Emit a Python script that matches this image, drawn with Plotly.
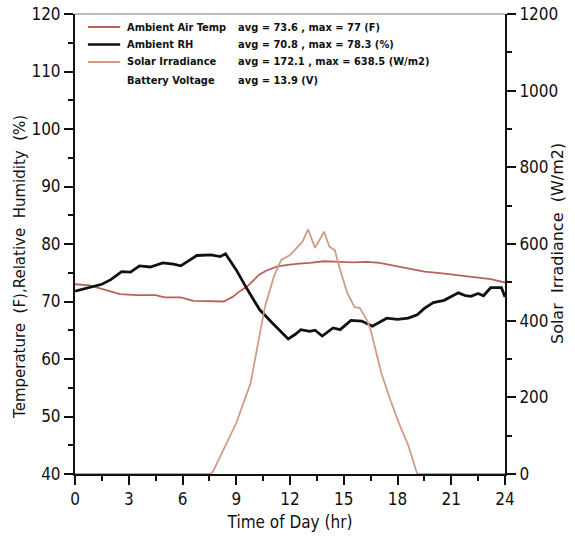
import plotly.graph_objects as go

# Hourly weather-station record
temp_hr = [0, 0.8, 1.5, 2.5, 3.5, 4.5, 5.0, 5.9, 6.6, 7.5, 8.3, 8.8, 9.2, 9.6, 10.3, 10.7,
           11.3, 12.0, 12.5, 13.1, 13.9, 14.8, 15.5, 16.3, 17.0, 17.5, 18.5, 19.5, 20.5,
           21.5, 22.3, 23.2, 24.0]
temp_f = [73.0, 72.8, 72.2, 71.3, 71.1, 71.1, 70.7, 70.7, 70.1, 70.0, 70.0, 70.8, 71.8, 72.6,
          74.7, 75.4, 76.1, 76.4, 76.6, 76.7, 77.0, 76.9, 76.8, 76.9, 76.7, 76.4, 75.8, 75.2,
          74.9, 74.5, 74.3, 73.9, 73.3]

rh_hr = [0, 0.8, 1.5, 2.0, 2.6, 3.1, 3.6, 4.2, 4.9, 5.5, 5.9, 6.4, 6.8, 7.6, 8.1, 8.4, 9.0,
         9.6, 10.3, 11.0, 11.5, 11.9, 12.3, 12.6, 13.1, 13.4, 13.8, 14.4, 14.8, 15.4, 16.0,
         16.6, 17.4, 18.0, 18.6, 19.1, 19.5, 20.0, 20.6, 21.4, 21.8, 22.1, 22.5, 22.8, 23.2,
         23.8, 24.0]
rh_pct = [71.8, 72.4, 73.0, 73.8, 75.2, 75.1, 76.2, 76.0, 76.7, 76.5, 76.2, 77.2, 78.0, 78.1,
          77.8, 78.3, 75.5, 72.2, 68.6, 66.3, 64.8, 63.5, 64.3, 65.1, 64.8, 65.0, 64.0, 65.4,
          65.1, 66.7, 66.6, 65.7, 67.1, 66.9, 67.1, 67.7, 68.8, 69.8, 70.2, 71.5, 71.0, 70.9,
          71.4, 71.0, 72.4, 72.4, 70.8]

solar_hr = [0, 7.55, 7.7, 8.3, 9.0, 9.8, 10.3, 10.6, 11.1, 11.5, 12.0, 12.4, 12.7, 13.0,
            13.4, 13.9, 14.2, 14.5, 14.8, 15.2, 15.6, 15.9, 16.3, 16.5, 17.1, 17.6, 18.1,
            18.6, 19.1, 24]
solar_wm2 = [0, 0, 6, 63, 133, 237, 368, 436, 515, 558, 571, 590, 606, 638.5, 590, 632, 593,
             584, 532, 472, 436, 433, 401, 376, 263, 193, 130, 75, 0, 0]

series_names = ["Ambient Air Temp", "Ambient RH", "Solar Irradiance", "Battery Voltage"]
series_stats = ["avg = 73.6 , max = 77 (F)", "avg = 70.8 , max = 78.3 (%)",
                "avg = 172.1 , max = 638.5 (W/m2)", "avg = 13.9 (V)"]

x_ticks = [0, 3, 6, 9, 12, 15, 18, 21, 24]

TEMP_C = "#b9625a"
RH_C = "#111111"
SOLAR_C = "#d39b86"
NARROW = "Liberation Sans Narrow, DejaVu Sans Condensed, sans-serif"
WIDE = "DejaVu Sans, sans-serif"
INK = "#111"

fig = go.Figure()
fig.add_trace(go.Scatter(x=temp_hr, y=temp_f, mode="lines", name=series_names[0],
                         line=dict(color=TEMP_C, width=1.8)))
fig.add_trace(go.Scatter(x=rh_hr, y=rh_pct, mode="lines", name=series_names[1],
                         line=dict(color=RH_C, width=2.8)))
fig.add_trace(go.Scatter(x=solar_hr, y=solar_wm2, mode="lines", name=series_names[2],
                         line=dict(color=SOLAR_C, width=1.8), yaxis="y2"))

# key block: sample line, series name and summary statistics on each row
key_colors = [TEMP_C, RH_C, SOLAR_C, None]
key_widths = [1.8, 2.6, 1.8, 0]
row_y = [0.9717, 0.9337, 0.8957, 0.8565]
for name, stat, col, w, ry in zip(series_names, series_stats, key_colors, key_widths, row_y):
    if col is not None:
        fig.add_shape(type="line", xref="paper", yref="paper", x0=0.030, x1=0.105,
                      y0=ry, y1=ry, line=dict(color=col, width=w))
    fig.add_annotation(x=0.1163, y=ry, xref="paper", yref="paper", text=f"<b>{name}</b>",
                       showarrow=False, xanchor="left", yanchor="middle",
                       font=dict(family=NARROW, size=11, color=INK))
    fig.add_annotation(x=0.3744, y=ry, xref="paper", yref="paper", text=f"<b>{stat}</b>",
                       showarrow=False, xanchor="left", yanchor="middle",
                       font=dict(family=NARROW, size=11, color=INK))

# vertical axis titles
fig.add_annotation(x=-0.128, y=0.45, xref="paper", yref="paper", textangle=-90,
                   text="Temperature  (F),Relative  Humidity  (%)", showarrow=False,
                   xanchor="center", yanchor="middle",
                   font=dict(family=WIDE, size=15, color=INK))
fig.add_annotation(x=1.121, y=0.5, xref="paper", yref="paper", textangle=-90,
                   text="Solar  Irradiance  (W/m2)", showarrow=False,
                   xanchor="center", yanchor="middle",
                   font=dict(family=WIDE, size=16, color=INK))

axis_common = dict(ticks="outside", ticklen=9, tickwidth=1.5, tickcolor=INK,
                   showline=True, linecolor=INK, linewidth=2, showgrid=False,
                   zeroline=False, automargin=False,
                   tickfont=dict(family=NARROW, size=17, color=INK))

fig.update_layout(
    width=575, height=549,
    margin=dict(l=75, r=70, t=14, b=75),
    paper_bgcolor="white", plot_bgcolor="white",
    showlegend=False,
    xaxis=dict(range=[0, 24], tickvals=x_ticks,
               minor=dict(dtick=1.5, ticks="outside", ticklen=5, tickwidth=1.5,
                          tickcolor=INK, showgrid=False),
               title=dict(text="Time of Day (hr)", standoff=8,
                          font=dict(family=NARROW, size=17, color=INK)),
               **axis_common),
    yaxis=dict(range=[40, 120], dtick=10,
               minor=dict(dtick=5, ticks="outside", ticklen=5, tickwidth=1.5,
                          tickcolor=INK, showgrid=False),
               **axis_common),
    yaxis2=dict(range=[0, 1200], dtick=200, overlaying="y", side="right",
                minor=dict(dtick=100, ticks="outside", ticklen=5, tickwidth=1.5,
                           tickcolor=INK, showgrid=False),
                **axis_common),
)

# thin frame line along the top of the plotting area
fig.add_shape(type="line", xref="paper", yref="paper", x0=0, x1=1, y0=1, y1=1,
              line=dict(color="#777", width=1))

fig.write_html("out.html")
